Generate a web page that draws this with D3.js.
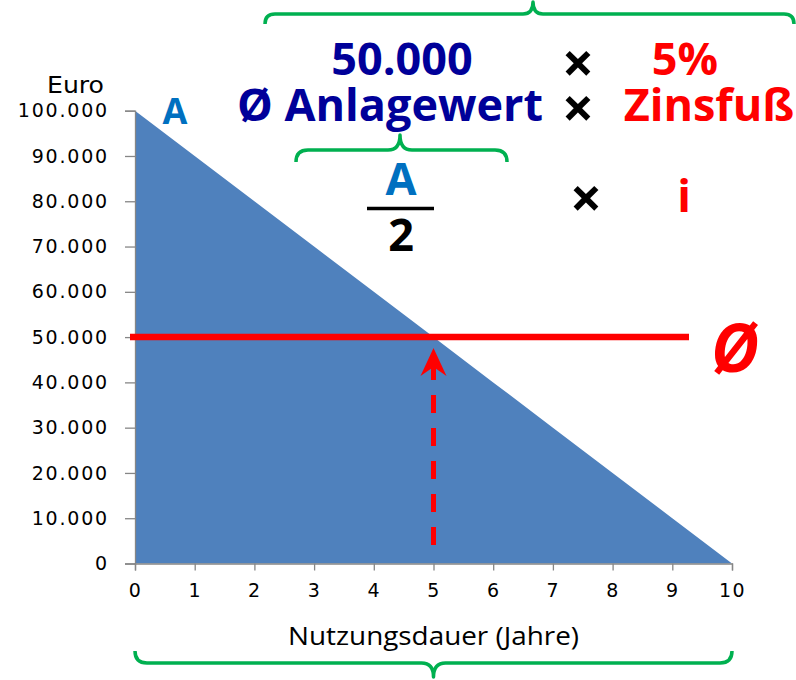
<!DOCTYPE html>
<html>
<head>
<meta charset="utf-8">
<script src="https://cdn.jsdelivr.net/npm/d3@7"></script>
<style>
  html, body { margin: 0; padding: 0; background: #fff; }
  svg { display: block; }
</style>
</head>
<body>
<svg id="chart" width="796" height="680"></svg>
<script>
// ---- data ----
const years = [0, 1, 2, 3, 4, 5, 6, 7, 8, 9, 10];
const bookValues = [100000, 90000, 80000, 70000, 60000, 50000, 40000, 30000, 20000, 10000, 0];
const yTicks = [0, 10000, 20000, 30000, 40000, 50000, 60000, 70000, 80000, 90000, 100000];
const xTicks = [0, 1, 2, 3, 4, 5, 6, 7, 8, 9, 10];
const averageValue = 50000;
const averageYear = 5;
const yAxisTitle = "Euro";
const xAxisTitle = "Nutzungsdauer (Jahre)";

const svg = d3.select("#chart");
const x = d3.scaleLinear().domain([0, 10]).range([135, 732]);
const y = d3.scaleLinear().domain([0, 100000]).range([563.5, 110.7]);

const loc = d3.formatLocale({ decimal: ",", thousands: ".", grouping: [3], currency: ["", " €"] });
const fmt = loc.format(",.0f");

const tickFont = "'DejaVu Sans', Verdana, sans-serif";
const boldFont = "'Open Sans', 'Noto Sans', sans-serif";
const green = "#00B050";

// area (triangle)
const pts = years.map((d, i) => [d, bookValues[i]]);
svg.append("path")
  .datum(pts)
  .attr("fill", "#4F81BD")
  .attr("d", d3.area().x(d => x(d[0])).y0(y(0)).y1(d => y(d[1])));

// y axis
const yAxis = svg.append("g")
  .attr("transform", `translate(${x(0)},0)`)
  .call(d3.axisLeft(y).tickValues(yTicks).tickFormat(fmt).tickSize(10).tickPadding(16));
yAxis.select(".domain").attr("stroke", "#868686").attr("stroke-width", 1.3);
yAxis.selectAll(".tick line").attr("stroke", "#868686").attr("stroke-width", 1.3);
yAxis.selectAll("text")
  .attr("font-family", tickFont).attr("font-size", 19).attr("fill", "#000")
  .attr("letter-spacing", "1.8px");

// x axis
const xAxis = svg.append("g")
  .attr("transform", `translate(0,${y(0)})`)
  .call(d3.axisBottom(x).tickValues(xTicks).tickFormat(d3.format("d")).tickSize(7).tickPadding(13));
xAxis.select(".domain").attr("stroke", "#868686").attr("stroke-width", 1.3);
xAxis.selectAll(".tick line").attr("stroke", "#868686").attr("stroke-width", 1.3);
xAxis.selectAll("text")
  .attr("font-family", tickFont).attr("font-size", 19).attr("fill", "#000")
  .attr("letter-spacing", "1.5px");

// axis titles
svg.append("text").attr("x", 104).attr("y", 93).attr("text-anchor", "end")
  .attr("font-family", tickFont).attr("font-size", 23).attr("fill", "#000")
  .attr("textLength", 57).attr("lengthAdjust", "spacingAndGlyphs").text(yAxisTitle);
svg.append("text").attr("x", x(5)).attr("y", 645).attr("text-anchor", "middle")
  .attr("font-family", "'Open Sans', sans-serif").attr("font-size", 25)
  .attr("fill", "#000").attr("textLength", 291).attr("lengthAdjust", "spacingAndGlyphs").text(xAxisTitle);

// average line
svg.append("line")
  .attr("x1", x(0) - 5).attr("x2", 689)
  .attr("y1", y(averageValue)).attr("y2", y(averageValue))
  .attr("stroke", "#FF0000").attr("stroke-width", 6.5);

// dashed arrow
svg.append("line")
  .attr("x1", x(averageYear)).attr("x2", x(averageYear))
  .attr("y1", 545).attr("y2", 360)
  .attr("stroke", "#FF0000").attr("stroke-width", 5).attr("stroke-dasharray", "18,15");
svg.append("path")
  .attr("d", `M${x(averageYear)},${y(averageValue) + 11} L${x(averageYear) - 13},${y(averageValue) + 39} L${x(averageYear)},${y(averageValue) + 30} L${x(averageYear) + 13},${y(averageValue) + 39} Z`)
  .attr("fill", "#FF0000");

// Ø symbol at the line
svg.append("text").attr("x", 735).attr("y", 372).attr("text-anchor", "middle")
  .attr("font-family", boldFont).attr("font-weight", "bold").attr("font-style", "italic")
  .attr("font-size", 66).attr("fill", "#FF0000").text("Ø");

// A label in chart
svg.append("text").attr("x", 175).attr("y", 124).attr("text-anchor", "middle")
  .attr("font-family", boldFont).attr("font-weight", "bold")
  .attr("font-size", 36).attr("fill", "#0070C0").text("A");

// braces
function brace(x1, x2, yEnd, yMid, yTip, tipX) {
  const r = Math.abs(yMid - yEnd);
  const p = d3.path();
  p.moveTo(x1, yEnd);
  p.quadraticCurveTo(x1, yMid, x1 + r, yMid);
  p.lineTo(tipX - r, yMid);
  p.quadraticCurveTo(tipX, yMid, tipX, yTip);
  p.quadraticCurveTo(tipX, yMid, tipX + r, yMid);
  p.lineTo(x2 - r, yMid);
  p.quadraticCurveTo(x2, yMid, x2, yEnd);
  svg.append("path").attr("d", p.toString()).attr("fill", "none")
    .attr("stroke", green).attr("stroke-width", 3.5).attr("stroke-linejoin", "round");
}
brace(265, 794, 24, 14, 2, 533);
brace(296, 507, 162, 150, 135, 400);
brace(x(0), x(10), 651, 663, 677, x(5));

// formula text
const navy = "#000099";
function t(xp, yp, txt, color, size, anchor) {
  return svg.append("text").attr("x", xp).attr("y", yp).attr("text-anchor", anchor || "middle")
    .attr("font-family", boldFont).attr("font-weight", "bold")
    .attr("font-size", size).attr("fill", color).text(txt);
}
t(402, 75, "50.000", navy, 45);
t(390, 121, "Ø Anlagewert", navy, 45);
t(578, 61, "×", "#000", 56).attr("dominant-baseline", "central");
t(578, 106, "×", "#000", 56).attr("dominant-baseline", "central");
t(586, 196, "×", "#000", 56).attr("dominant-baseline", "central");
t(685, 75, "5%", "#FF0000", 45);
t(709, 121, "Zinsfuß", "#FF0000", 45);
t(401, 195, "A", "#0070C0", 45);
svg.append("line").attr("x1", 367).attr("x2", 434).attr("y1", 208.5).attr("y2", 208.5)
  .attr("stroke", "#000").attr("stroke-width", 3.5);
t(401, 251, "2", "#000", 45);
t(684, 212, "i", "#FF0000", 45);
</script>
</body>
</html>
